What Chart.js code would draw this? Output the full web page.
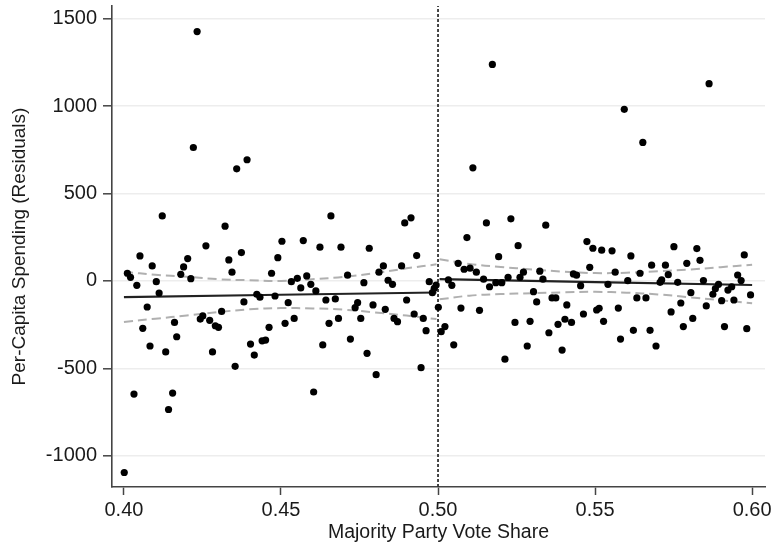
<!DOCTYPE html>
<html>
<head>
<meta charset="utf-8">
<script src="https://cdn.jsdelivr.net/npm/chart.js@4"></script>
<style>
  html,body{margin:0;padding:0;background:#fff;}
  #wrap{width:776px;height:548px;}
</style>
</head>
<body>
<div id="wrap"><canvas id="rd" width="776" height="548"></canvas></div>
<script>
// scatter: majority party vote share vs per-capita spending residuals
const voteShare = [
  .4233,.4221,.4359,.4392,.4122,.4322,.4261,.4374,.4659,.4503,.4571,.4624,.4691,.4781,.4894,.4914,
  .4051,.4203,.4190,.4090,.4334,.4344,.4011,.4021,.4181,.4213,.4041,.4103,.4112,.4470,.4074,.4382,
  .4423,.4433,.4481,.4060,.4161,.4168,.4083,.4133,.4243,.4251,.4273,.4291,.4301,.4311,.4282,.4354,
  .4403,.4415,.4440,.4451,.4462,.4032,.4155,.4142,.4001,.4490,.4932,.4533,.4552,.4582,.4563,.4595,
  .4611,.4712,.4764,.4812,.4826,.4884,.4841,.4855,.4972,.4988,.4982,.4994,.4523,.4643,.4673,.4744,
  .4736,.4793,.4832,.4900,.4860,.4871,.4924,.4953,.4962,.4513,.4542,.4653,.4683,.4754,.4633,.4721,
  .4774,.4803,.4946,.4604,
  .5001,.5010,.5173,.5111,.5092,.5154,.5232,.5255,.5343,.5474,.5493,.5521,.5593,.5652,.5863,.5554,
  .5751,.5824,.5193,.5033,.5044,.5064,.5083,.5102,.5122,.5145,.5164,.5184,.5203,.5223,.5261,.5272,
  .5324,.5334,.5304,.5314,.5431,.5441,.5454,.5483,.5363,.5375,.5410,.5073,.5132,.5022,.5050,.5245,
  .5293,.5284,.5213,.5353,.5382,.5404,.5425,.5395,.5463,.5505,.5513,.5527,.5614,.5834,.5975,.5680,
  .5724,.5792,.5564,.5643,.5733,.5954,.5541,.5604,.5707,.5712,.5763,.5845,.5965,.5893,.5883,.5875,
  .5923,.5935,.5805,.5633,.5662,.5773,.5742,.5854,.5903,.5942,.5995,.5574,.5811,.5781,.5912,.5983,
  .5581,.5622,.5675,.5694
];
const spending = [
  1426,763,641,693,372,313,201,162,372,227,231,193,193,187,332,361,
  143,128,80,86,120,50,44,21,38,13,-25,-4,-69,44,-149,-120,
  -76,-93,-86,-271,-237,-319,-372,-406,-218,-200,-225,-256,-265,-174,-406,-488,
  -361,-424,-342,-338,-265,-647,-641,-735,-1095,133,145,-4,15,29,-40,-19,
  -57,33,-10,50,86,86,4,-19,-4,-42,-67,-23,-124,-109,-103,-124,
  -153,-137,-162,-109,-214,-233,-189,-214,-284,-242,-214,-242,-214,-214,-366,-332,
  -414,-536,-496,-635,
  -151,-290,1238,647,248,332,355,202,319,225,187,176,981,792,1128,172,
  196,185,139,6,-25,101,67,73,50,10,-33,-10,-10,21,21,50,
  56,10,-61,-120,40,33,-27,78,-97,-97,-137,-155,-168,-261,-365,-237,
  -231,-372,-447,-296,-248,-219,-237,-395,-189,-166,-156,-231,143,118,149,90,
  90,101,50,44,36,34,-19,2,-8,6,-8,2,2,-19,-44,-76,
  -52,-33,-67,-97,-97,-126,-177,-143,-113,-109,-80,-155,-214,-261,-261,-273,
  -332,-282,-282,-372
];

// fitted lines either side of the 0.50 cutoff
const fitLeftX  = [0.400, 0.4995];
const fitLeftY  = [-92, -66];
const fitRightX = [0.5005, 0.600];
const fitRightY = [10, -23];

// confidence bands
const bandLeftX   = [0.400,0.410,0.420,0.430,0.440,0.450,0.460,0.470,0.480,0.490,0.4995];
const bandLeftHi  = [53, 35, 24, 10, 4, 0, 10, 23, 45, 72, 95];
const bandLeftLo  = [-234,-216,-197,-178,-162,-155,-157,-164,-180,-198,-218];
const bandRightX  = [0.5005,0.510,0.520,0.530,0.540,0.550,0.560,0.570,0.580,0.590,0.600];
const bandRightHi = [124, 97, 80, 66, 53, 45, 47, 56, 65, 79, 93];
const bandRightLo = [-105,-84,-75,-70,-65,-62,-67,-77,-93,-110,-128];

const cutoff = 0.50;
const xRange = [0.3962, 0.6041];
const yRange = [-1178, 1572];
const xTicks = [0.40, 0.45, 0.50, 0.55, 0.60];
const yTicks = [-1000, -500, 0, 500, 1000, 1500];

const FONT = "'Liberation Sans', Arial, Helvetica, sans-serif";
const pts = (xs, ys) => xs.map((x,i)=>({x, y:ys[i]}));

const lineDs = (data, color, width, dash, order) => ({
  type:'line', data, borderColor:color, borderWidth:width, borderDash:dash||[],
  pointRadius:0, fill:false, tension:0.35, order
});

// no extra room for edge labels, the plot box is fixed by the layout padding
const noEdgePad = s => { s.paddingTop = 0; s.paddingBottom = 0; s.paddingLeft = 0; s.paddingRight = 0; };

new Chart(document.getElementById('rd'), {
  type:'scatter',
  data:{
    datasets:[
      { data: pts(voteShare, spending), backgroundColor:'#000', borderWidth:0, pointRadius:3.6, order:0 },
      lineDs(pts(fitLeftX, fitLeftY), '#222', 2.2, null, 1),
      lineDs(pts(fitRightX, fitRightY), '#222', 2.2, null, 1),
      lineDs(pts(bandLeftX, bandLeftHi), '#b0b0b0', 2, [9,5], 2),
      lineDs(pts(bandLeftX, bandLeftLo), '#b0b0b0', 2, [9,5], 2),
      lineDs(pts(bandRightX, bandRightHi), '#b0b0b0', 2, [9,5], 2),
      lineDs(pts(bandRightX, bandRightLo), '#b0b0b0', 2, [9,5], 2),
      { type:'line', data:[{x:cutoff, y:yRange[0]},{x:cutoff, y:yRange[1]}], borderColor:'#333',
        borderWidth:1.8, borderDash:[3,2], pointRadius:0, fill:false, order:3 }
    ]
  },
  options:{
    responsive:false, animation:false,
    layout:{ padding:{ top:6, right:11, left:0, bottom:0 } },
    plugins:{ legend:{display:false}, tooltip:{enabled:false} },
    scales:{
      x:{
        type:'linear', min:xRange[0], max:xRange[1],
        afterBuildTicks: s => { s.ticks = xTicks.map(v=>({value:v})); },
        afterFit: s => { s.height = 61; noEdgePad(s); },
        ticks:{ color:'#1a1a1a', font:{family:FONT, size:20}, padding:3, maxRotation:0,
                callback: v => v.toFixed(2) },
        grid:{ drawOnChartArea:false, tickLength:8, tickColor:'#444', tickWidth:1.5 },
        border:{ color:'#444', width:1.6 },
        title:{ display:true, text:'Majority Party Vote Share', color:'#1a1a1a',
                font:{family:FONT, size:19.5}, padding:{top:0, bottom:4} }
      },
      y:{
        type:'linear', min:yRange[0], max:yRange[1],
        afterBuildTicks: s => { s.ticks = yTicks.map(v=>({value:v})); },
        afterFit: s => { s.width = 112; noEdgePad(s); },
        ticks:{ color:'#1a1a1a', font:{family:FONT, size:20}, padding:6, callback: v => String(v) },
        grid:{ color:'#ededed', lineWidth:1.6, tickLength:9, tickColor:'#444', tickWidth:1.5 },
        border:{ color:'#444', width:1.6 },
        title:{ display:true, text:'Per-Capita Spending (Residuals)', color:'#1a1a1a',
                font:{family:FONT, size:19}, padding:{top:8, bottom:0} }
      }
    }
  }
});
</script>
</body>
</html>
